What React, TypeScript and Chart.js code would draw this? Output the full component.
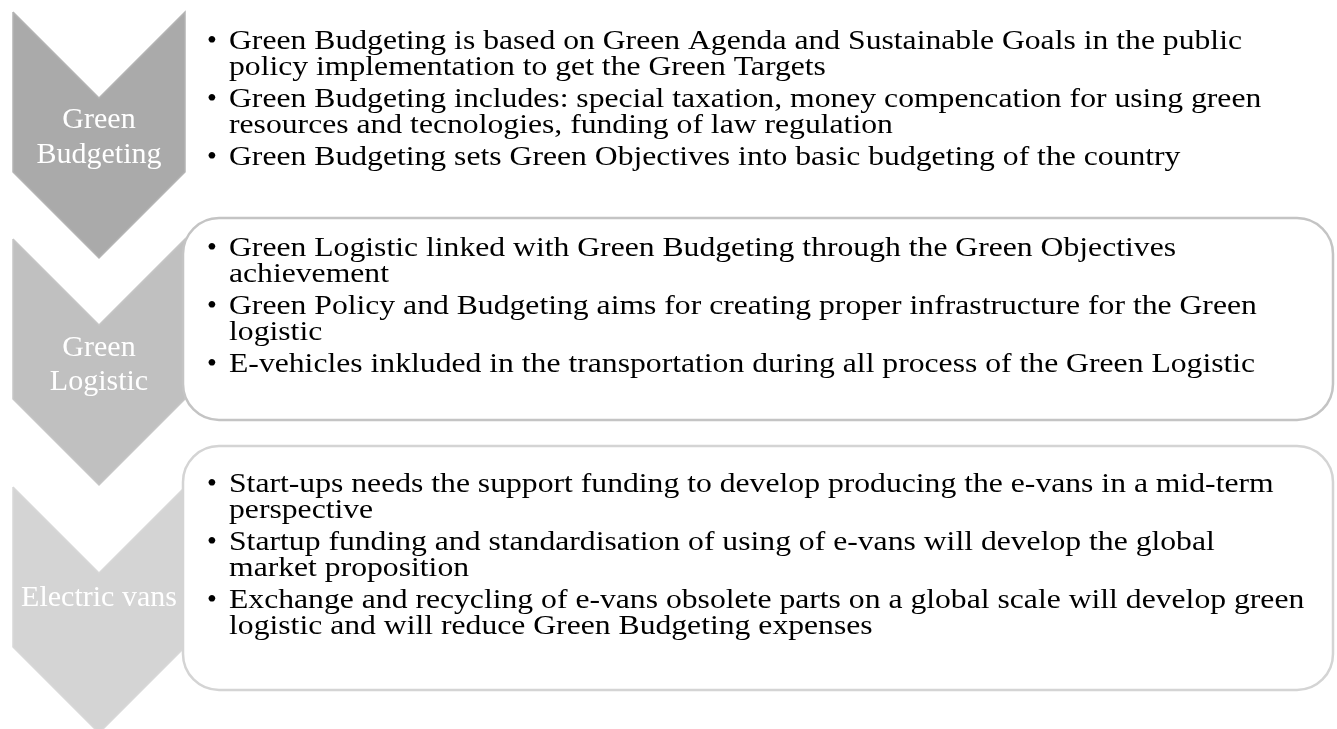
import { useEffect, useRef } from "react";
import { Chart, registerables } from "chart.js";

Chart.register(...registerables);

// ---- content ----
const stageLabels: string[][] = [["Green", "Budgeting"], ["Green", "Logistic"], ["Electric vans"]];
const stageFills = ["#aaaaaa", "#c0c0c0", "#d4d4d4"];
const stageEdges = ["#b4b4b4", "#c6c6c6", "#d8d8d8"];
const boxBorders = ["#c4c4c4", "#d4d4d4"];

const budgetingBullets: string[][] = [
  ["Green Budgeting is based on Green Agenda and Sustainable Goals in the public", "policy implementation to get the Green Targets"],
  ["Green Budgeting includes: special taxation, money compencation for using green", "resources and tecnologies, funding of law regulation"],
  ["Green Budgeting sets Green Objectives into basic budgeting of the country"],
];
const logisticBullets: string[][] = [
  ["Green Logistic linked with Green Budgeting through the Green Objectives", "achievement"],
  ["Green Policy and Budgeting aims for creating proper infrastructure for the Green", "logistic"],
  ["E-vehicles inkluded in the transportation during all process of the Green Logistic"],
];
const vansBullets: string[][] = [
  ["Start-ups needs the support funding to develop producing the e-vans in a mid-term", "perspective"],
  ["Startup funding and standardisation of using of e-vans will develop the global", "market proposition"],
  ["Exchange and recycling of e-vans obsolete parts on a global scale will develop green", "logistic and will reduce Green Budgeting expenses"],
];
const stageBullets = [budgetingBullets, logisticBullets, vansBullets];

// ---- layout (pixel-space units of the hidden scales) ----
const W = 1337;
const H = 729;
const CHEV = { left: 13, right: 185, notch: 86, side: 160, tip: 246 };
const chevronTops = [12, 239, 487];
const BOXES = [
  { x0: 183, x1: 1333, y0: 218, y1: 420 },
  { x0: 183, x1: 1333, y0: 446, y1: 690 },
];
const labelBaselines = [[128, 163], [356, 390], [606]];
const firstBaselines = [49, 256, 492];
const LINE_STEP = 26;
const BULLET_STEP = 32;
const TEXT_X = 229;
const BULLET_X = 212;
const FIRST_LINE_END = 1242;
const BODY_FONT = '28px "Liberation Serif", "Times New Roman", serif';
const LABEL_FONT = '30px "Liberation Serif", "Times New Roman", serif';

function chevronPoints(top: number) {
  const cx = (CHEV.left + CHEV.right) / 2;
  return [
    { x: CHEV.left, y: top },
    { x: cx, y: top + CHEV.notch },
    { x: CHEV.right, y: top },
    { x: CHEV.right, y: top + CHEV.side },
    { x: cx, y: top + CHEV.tip },
    { x: CHEV.left, y: top + CHEV.side },
    { x: CHEV.left, y: top },
  ];
}

const diagramPlugin = {
  id: "diagramPlugin",
  afterDatasetsDraw(chart: any) {
    const ctx: CanvasRenderingContext2D = chart.ctx;
    const xs = chart.scales.x;
    const ys = chart.scales.y;
    const px = (v: number) => xs.getPixelForValue(v);
    const py = (v: number) => ys.getPixelForValue(v);

    // text boxes
    BOXES.forEach((b, i) => {
      const x = px(b.x0);
      const y = py(b.y0);
      const w = px(b.x1) - x;
      const h = py(b.y1) - y;
      ctx.save();
      ctx.beginPath();
      (ctx as any).roundRect(x, y, w, h, 36);
      ctx.fillStyle = "#ffffff";
      ctx.fill();
      ctx.lineWidth = 2.5;
      ctx.strokeStyle = boxBorders[i];
      ctx.stroke();
      ctx.restore();
    });

    // chevron labels
    ctx.save();
    ctx.fillStyle = "#ffffff";
    ctx.font = LABEL_FONT;
    ctx.textAlign = "center";
    ctx.textBaseline = "alphabetic";
    const cx = (CHEV.left + CHEV.right) / 2;
    stageLabels.forEach((lines, i) => {
      lines.forEach((t, j) => ctx.fillText(t, px(cx), py(labelBaselines[i][j])));
    });
    ctx.restore();

    // bullet text
    ctx.save();
    ctx.font = BODY_FONT;
    ctx.fillStyle = "#000000";
    ctx.textBaseline = "alphabetic";
    const sx = (FIRST_LINE_END - TEXT_X) / ctx.measureText(budgetingBullets[0][0]).width;
    stageBullets.forEach((bullets, i) => {
      let yb = firstBaselines[i];
      bullets.forEach((lines, bi) => {
        if (bi > 0) yb += BULLET_STEP - LINE_STEP;
        lines.forEach((t, li) => {
          if (li === 0) {
            ctx.save();
            ctx.textAlign = "center";
            ctx.fillText("\u2022", px(BULLET_X), py(yb));
            ctx.restore();
          }
          ctx.save();
          ctx.textAlign = "left";
          ctx.translate(px(TEXT_X), py(yb));
          ctx.scale(sx, 1);
          ctx.fillText(t, 0, 0);
          ctx.restore();
          yb += LINE_STEP;
        });
      });
    });
    ctx.restore();
  },
};

export default function App() {
  const ref = useRef<HTMLCanvasElement>(null);
  useEffect(() => {
    if (!ref.current) return;
    const chart = new Chart(ref.current, {
      type: "scatter",
      data: {
        datasets: chevronTops.map((top, i) => ({
          label: stageLabels[i].join(" "),
          data: chevronPoints(top),
          showLine: true,
          fill: "shape",
          backgroundColor: stageFills[i],
          borderColor: stageEdges[i],
          borderWidth: 1.5,
          pointRadius: 0,
          tension: 0,
        })),
      } as any,
      options: {
        responsive: false,
        animation: false,
        devicePixelRatio: 1,
        events: [],
        layout: { padding: 0 },
        plugins: { legend: { display: false }, tooltip: { enabled: false } },
        scales: {
          x: { type: "linear", min: 0, max: W, display: false },
          y: { type: "linear", min: 0, max: H, reverse: true, display: false },
        },
      } as any,
      plugins: [diagramPlugin],
    });
    return () => chart.destroy();
  }, []);
  return (
    <div style={{ position: "fixed", left: 0, top: 0, width: W, height: H, background: "#ffffff" }}>
      <canvas ref={ref} width={W} height={H} style={{ display: "block" }} />
    </div>
  );
}
